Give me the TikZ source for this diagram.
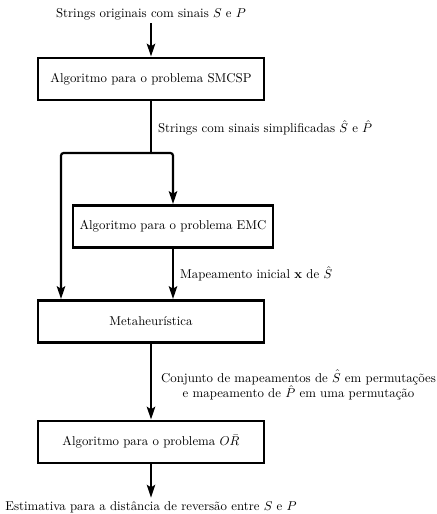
\documentclass[tikz,border=0pt]{standalone}
\usepackage{amsmath}
\usetikzlibrary{arrows, arrows.meta, positioning}

\begin{document}
\begin{tikzpicture}[
  x=0.78pt, y=-0.78pt,
  ->,>={Stealth[length=10pt, width=6.5pt, inset=2pt]},line width=1.7pt,
  every node/.style={font=\normalsize, inner sep=2pt},
  etapa/.style={draw=black, line width=2pt, rectangle, minimum width=176pt, minimum height=33pt},
  rotulo/.style={anchor=west, inner sep=0pt}]

  \useasboundingbox (0,0) rectangle (436,514);

  \node               (ent)   at (151, 14)    {Strings originais com sinais $S$ e $P$};
  \node[etapa]        (smcsp) at (151, 79)    {Algoritmo para o problema SMCSP};
  \node[etapa, minimum width=156pt] (emc) at (173, 226.5) {Algoritmo para o problema EMC};
  \node[etapa]        (meta)  at (151, 321.5) {Metaheurística};
  \node[etapa]        (orb)   at (151, 442)   {Algoritmo para o problema $O\bar{R}$};
  \node               (sai)   at (151, 507)   {Estimativa para a distância de reversão entre $S$ e $P$};

  \coordinate (div) at (151, 153);
  \coordinate (esq) at (61, 153);

  \node[rotulo] (lsimp) at (157, 128) {Strings com sinais simplificadas $\hat{S}$ e $\hat{P}$};
  \node[rotulo] (lmap)  at (179, 274) {Mapeamento inicial $\mathbf{x}$ de $\hat{S}$};
  \node[align=center, inner sep=0pt] (lconj) at (298.5, 385)
    {Conjunto de mapeamentos de $\hat{S}$ em permutações\\ e mapeamento de $\hat{P}$ em uma permutação};

  \draw (ent) -- (smcsp);
  \draw[-] (smcsp.south) -- (div);
  \draw[rounded corners=2pt] (div) -| (emc.north);
  \draw[rounded corners=2pt] (div) -- (esq) -- (meta.north -| esq);
  \draw (emc.south) -- (meta.north -| emc.south);
  \draw (meta) -- (orb);
  \draw (orb) -- (sai);

\end{tikzpicture}
\end{document}
